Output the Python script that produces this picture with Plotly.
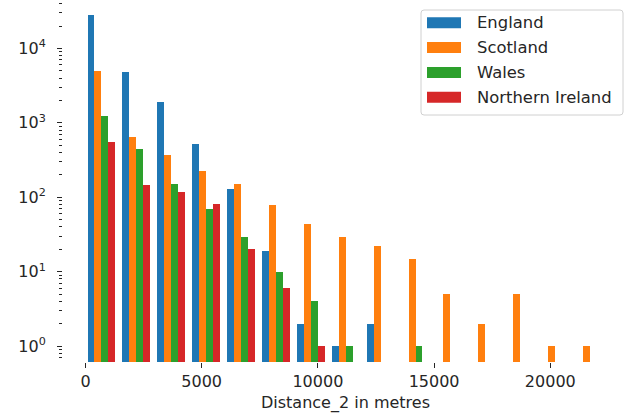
import numpy as np
import plotly.graph_objects as go

# Histogram counts per distance bin (15 equal-width bins)
countries = ["England", "Scotland", "Wales", "Northern Ireland"]
england = [28000, 4800, 1890, 525, 130, 19, 2, 1, 2, 0, 0, 0, 0, 0, 0]
scotland = [5000, 640, 365, 227, 152, 78, 44, 29, 22, 15, 5, 2, 5, 1, 1]
wales = [1250, 445, 152, 70, 29, 10, 4, 1, 0, 1, 0, 0, 0, 0, 0]
n_ireland = [550, 144, 117, 82, 20, 6, 1, 0, 0, 0, 0, 0, 0, 0, 0]
counts = [england, scotland, wales, n_ireland]
colors = ["#1f77b4", "#ff7f0e", "#2ca02c", "#d62728"]

# Distance range covered by the bins (metres)
dist_min, dist_max = -64, 22459
n_bins = 15
bin_edges = np.linspace(dist_min, dist_max, n_bins + 1)
bin_w = bin_edges[1] - bin_edges[0]

x_ticks = [0, 5000, 10000, 15000, 20000]
y_ticks = [1, 10, 100, 1000, 10000]
y_ticktext = ["10<sup>%d</sup>" % int(np.log10(v)) for v in y_ticks]
y_minor = [m * 10.0 ** k for k in range(-1, 5) for m in range(2, 10)]

# Figure geometry (pixels)
W, H = 628, 418
ML, MR, MT, MB = 63, 0, 0, 56
PW, PH = W - ML - MR, H - MT - MB


def px(x):
    return (x - ML) / PW


def py(y):
    return (H - MB - y) / PH


fig = go.Figure()
# grouped bars: 4 bars filling the central 80% of each bin
bar_w = 0.8 * bin_w / len(countries)
for j, (name, vals, col) in enumerate(zip(countries, counts, colors)):
    xs = bin_edges[:-1] + 0.1 * bin_w + (j + 0.5) * bar_w
    ys = [v if v > 0 else None for v in vals]
    fig.add_trace(go.Bar(
        x=xs, y=ys, width=bar_w, name=name,
        marker=dict(color=col, line=dict(width=0)),
        showlegend=False,
    ))

font = dict(family="DejaVu Sans", size=16, color="#262626")

# legend box drawn as a rounded frame with colour patches
lx0, lx1, ly0, ly1 = 421, 623, 10, 115
r = 3
rx, ry = r / PW, r / PH
x0, x1, y0, y1 = px(lx0), px(lx1), py(ly1), py(ly0)
path = (f"M{x0+rx},{y0} L{x1-rx},{y0} Q{x1},{y0} {x1},{y0+ry} "
        f"L{x1},{y1-ry} Q{x1},{y1} {x1-rx},{y1} L{x0+rx},{y1} "
        f"Q{x0},{y1} {x0},{y1-ry} L{x0},{y0+ry} Q{x0},{y0} {x0+rx},{y0} Z")
shapes = [dict(type="path", path=path, xref="paper", yref="paper",
               line=dict(color="#d0d0d0", width=1), fillcolor="rgba(255,255,255,0.8)",
               layer="above")]
annotations = []
row0, pitch = 22.8, 24.8
for j, (name, col) in enumerate(zip(countries, colors)):
    cy = row0 + j * pitch
    shapes.append(dict(type="rect", xref="paper", yref="paper",
                       x0=px(427), x1=px(461), y0=py(cy + 5.5), y1=py(cy - 5.5),
                       fillcolor=col, line=dict(width=0), layer="above"))
    annotations.append(dict(text=name, xref="paper", yref="paper",
                            x=px(475), y=py(cy), xanchor="left", yanchor="middle",
                            showarrow=False, font=dict(family="DejaVu Sans", size=16.4, color="#262626")))

fig.update_layout(
    width=W, height=H,
    margin=dict(l=ML, r=MR, t=MT, b=MB),
    paper_bgcolor="white", plot_bgcolor="white",
    barmode="overlay", bargap=0,
    font=font,
    shapes=shapes, annotations=annotations,
    xaxis=dict(
        range=[-968, 23344], tickvals=x_ticks, ticktext=[str(v) for v in x_ticks],
        ticks="outside", ticklen=5, tickwidth=1.3, tickcolor="#262626",
        showgrid=False, zeroline=False, showline=False,
        title=dict(text="Distance_2 in metres", standoff=6, font=font),
        tickfont=font,
    ),
    yaxis=dict(
        type="log", range=[-0.215, 4.651],
        tickvals=y_ticks, ticktext=y_ticktext,
        ticks="outside", ticklen=5, tickwidth=1.3, tickcolor="#262626",
        ticklabelstandoff=8,
        minor=dict(tickvals=y_minor, ticks="outside", ticklen=3, tickwidth=1,
                   tickcolor="#262626", showgrid=False),
        showgrid=False, zeroline=False, showline=False,
        tickfont=font,
    ),
)

fig.write_html("out.html")
